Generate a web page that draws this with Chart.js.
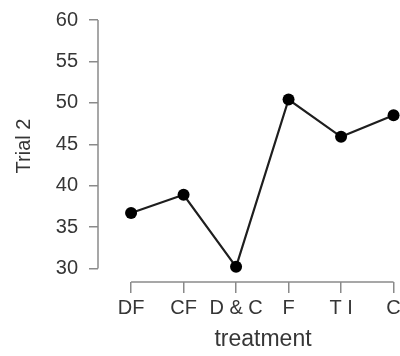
<!DOCTYPE html>
<html>
<head>
<meta charset="utf-8">
<script src="https://cdn.jsdelivr.net/npm/chart.js@4/dist/chart.umd.min.js"></script>
<style>
  html, body { margin: 0; padding: 0; background: #fff; overflow: hidden; }
  canvas { display: block; }
</style>
</head>
<body>
<canvas id="trialChart" width="434" height="356"></canvas>
<script>
// datos
const treatments = ['DF', 'CF', 'D & C', 'F', 'T I', 'C'];
const trial2 = [36.7, 38.9, 30.2, 50.4, 45.9, 48.5];
const yTicks = [30, 35, 40, 45, 50, 55, 60];

const textColor = '#363636';
const axisColor = '#8a8a8a';
const fontFamily = "'Liberation Sans', Arial, sans-serif";

// lineas de los ejes estilo R: solo entre el primer y el ultimo tick
const axisLines = {
    id: 'axisLines',
    beforeDatasetsDraw(chart) {
        const { ctx, chartArea, scales: { x, y } } = chart;
        ctx.save();
        ctx.strokeStyle = axisColor;
        ctx.lineWidth = 1.5;
        ctx.beginPath();
        ctx.moveTo(chartArea.left, y.getPixelForValue(yTicks[0]));
        ctx.lineTo(chartArea.left, y.getPixelForValue(yTicks[yTicks.length - 1]));
        ctx.moveTo(x.getPixelForValue(0), chartArea.bottom);
        ctx.lineTo(x.getPixelForValue(treatments.length - 1), chartArea.bottom);
        ctx.stroke();
        ctx.restore();
    }
};

const ctx = document.getElementById('trialChart').getContext('2d');
new Chart(ctx, {
    type: 'line',
    data: {
        datasets: [{
            label: 'Trial 2',
            data: trial2.map((v, i) => ({ x: i, y: v })),
            borderColor: '#1e1e1e',
            borderWidth: 2.2,
            pointRadius: 6,
            pointBackgroundColor: '#000',
            pointBorderColor: '#000',
            pointBorderWidth: 0,
            tension: 0
        }]
    },
    options: {
        responsive: false,
        animation: false,
        layout: { padding: { top: 10, left: 0, right: 0, bottom: 0 } },
        plugins: {
            legend: { display: false },
            tooltip: { enabled: false }
        },
        scales: {
            x: {
                type: 'linear',
                min: -0.63,
                max: 5.656,
                border: { display: false },
                grid: { drawOnChartArea: false, drawTicks: true, tickLength: 11, color: axisColor, lineWidth: 1.5 },
                afterBuildTicks: (scale) => { scale.ticks = treatments.map((_, i) => ({ value: i })); },
                afterFit: (scale) => {
                    scale.height = 74;
                    scale.paddingLeft = 0;
                    scale.paddingRight = 0;
                },
                ticks: {
                    autoSkip: false,
                    maxRotation: 0,
                    padding: 3,
                    color: textColor,
                    font: { family: fontFamily, size: 20 },
                    callback: (v) => treatments[v]
                },
                title: {
                    display: true,
                    text: 'treatment',
                    color: textColor,
                    font: { family: fontFamily, size: 23 },
                    padding: { top: 0, bottom: 3 }
                }
            },
            y: {
                min: 28.37,
                max: 61.21,
                border: { display: false },
                grid: { drawOnChartArea: false, drawTicks: true, tickLength: 9, color: axisColor, lineWidth: 1.5 },
                afterBuildTicks: (scale) => { scale.ticks = yTicks.map(v => ({ value: v })); },
                afterFit: (scale) => {
                    scale.width = 98;
                    scale.paddingTop = 0;
                    scale.paddingBottom = 0;
                },
                ticks: {
                    padding: 11,
                    color: textColor,
                    font: { family: fontFamily, size: 20 }
                },
                title: {
                    display: true,
                    text: 'Trial 2',
                    color: textColor,
                    font: { family: fontFamily, size: 20 },
                    padding: { top: 12, bottom: 0 }
                }
            }
        }
    },
    plugins: [axisLines]
});
</script>
</body>
</html>
